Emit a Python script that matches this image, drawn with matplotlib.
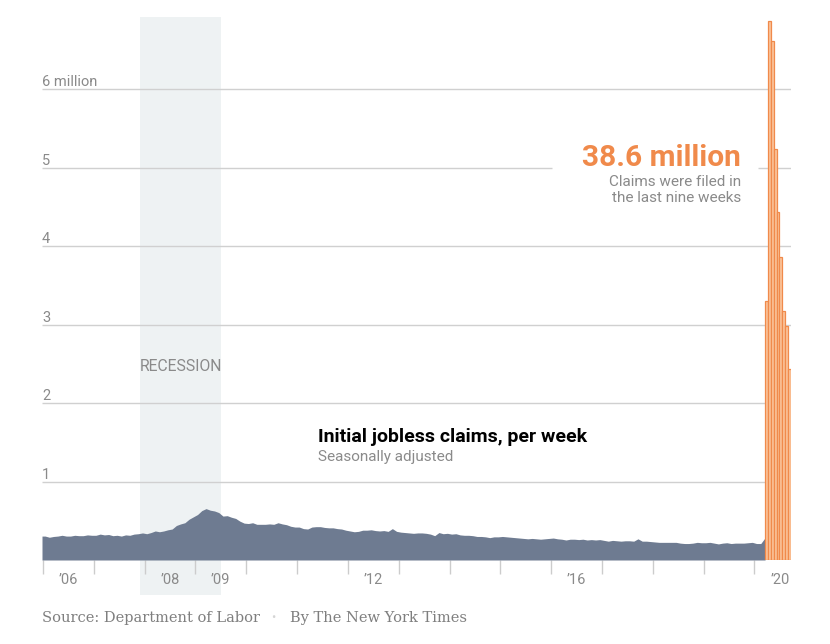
import numpy as np
import matplotlib.pyplot as plt
from matplotlib.patches import Rectangle
import matplotlib.transforms as mtransforms

# weekly initial claims, shown as monthly levels (thousands), Jan 2006 .. Mar 2020
claims_2006 = [305, 290, 300, 305, 315, 305, 305, 315, 310, 310, 320, 315]
claims_2007 = [315, 330, 320, 325, 310, 315, 305, 320, 315, 330, 335, 345]
claims_2008 = [335, 350, 370, 360, 370, 385, 395, 440, 460, 475, 520, 550]
claims_2009 = [580, 630, 655, 635, 625, 605, 560, 565, 545, 530, 495, 470]
claims_2010 = [465, 475, 455, 455, 455, 460, 455, 475, 460, 450, 430, 420]
claims_2011 = [420, 400, 395, 420, 425, 425, 415, 410, 410, 400, 395, 380]
claims_2012 = [370, 360, 365, 380, 380, 385, 375, 370, 375, 365, 400, 365]
claims_2013 = [355, 350, 345, 340, 345, 345, 340, 330, 310, 350, 335, 340]
claims_2014 = [330, 335, 320, 315, 315, 310, 300, 300, 295, 285, 295, 295]
claims_2015 = [300, 295, 290, 285, 280, 275, 270, 275, 270, 265, 270, 275]
claims_2016 = [280, 270, 265, 255, 265, 265, 260, 265, 255, 260, 255, 260]
claims_2017 = [250, 240, 250, 245, 240, 245, 245, 240, 270, 240, 240, 235]
claims_2018 = [230, 225, 225, 225, 225, 225, 215, 210, 210, 215, 225, 220]
claims_2019 = [220, 225, 215, 205, 215, 220, 210, 215, 215, 215, 220, 225]
claims_2020 = [210, 210, 282]

# last nine weeks (millions)
covid_weeks = ['Mar 21', 'Mar 28', 'Apr 4', 'Apr 11', 'Apr 18', 'Apr 25', 'May 2', 'May 9', 'May 16']
covid_claims = [3.307, 6.867, 6.615, 5.237, 4.442, 3.867, 3.176, 2.981, 2.438]

y_ticks = [1, 2, 3, 4, 5, 6]
y_labels = ['1', '2', '3', '4', '5', '6 million']
year_ticks = list(range(2006, 2021))
label_years = [2006, 2008, 2009, 2012, 2016, 2020]
recession = (2007 + 11 / 12, 2009.5)

GRAY = '#6e7b91'
ORANGE = '#f08a4b'
ORANGE_LIGHT = '#fbc49a'
TXT = '#8a8a8a'

plt.rcParams['font.family'] = ['Roboto', 'DejaVu Sans']

fig = plt.figure(figsize=(8.3, 6.44), dpi=100)
ax = fig.add_axes([42 / 830, 84 / 644, 749 / 830, 549 / 644])
ax.set_xlim(2005.98, 2020.72)
ax.set_ylim(0, 7.0)
for s in ax.spines.values():
    s.set_visible(False)

# recession band, running below the axis over the tick labels
trans = mtransforms.blended_transform_factory(ax.transData, ax.transAxes)
ax.add_patch(Rectangle((recession[0], -0.064), recession[1] - recession[0], 1.053,
                       transform=trans, color='#eef2f3', clip_on=False, zorder=0, lw=0))
ax.text(sum(recession) / 2, 2.47, 'RECESSION', ha='center', va='center',
        color=TXT, fontsize=11.3, zorder=3)

# gridlines (the 5 line is broken behind the annotation)
for y in y_ticks:
    if y == 5:
        ax.hlines(y, 2005.98, 2016.02, color='#d0d0d0', lw=1, zorder=1)
        ax.hlines(y, 2020.08, 2020.72, color='#d0d0d0', lw=1, zorder=1)
    else:
        ax.hlines(y, 2005.98, 2020.72, color='#d0d0d0', lw=1, zorder=1)
for y, lab in zip(y_ticks, y_labels):
    ax.text(2005.98, y + 0.0, lab, ha='left', va='bottom', color=TXT, fontsize=10.5)

# gray area
monthly = np.array(claims_2006 + claims_2007 + claims_2008 + claims_2009 + claims_2010 +
                   claims_2011 + claims_2012 + claims_2013 + claims_2014 + claims_2015 +
                   claims_2016 + claims_2017 + claims_2018 + claims_2019 + claims_2020) / 1000
xs = 2006 + (np.arange(len(monthly)) + 0.5) / 12
xs = np.concatenate([[2005.98], xs, [2020.21]])
ys = np.concatenate([[monthly[0]], monthly, [monthly[-1]]])
ax.fill_between(xs, ys, color=GRAY, lw=0, zorder=2)

# orange bars for the last nine weeks
w = (2020.72 - 2020.21) / len(covid_claims)
bx = 2020.21 + (np.arange(len(covid_claims)) + 0.5) * w
ax.bar(bx, covid_claims, width=w, color=ORANGE_LIGHT, edgecolor=ORANGE, lw=0.9, zorder=2)

# x ticks
ax.set_yticks([])
ax.set_xticks(year_ticks)
ax.set_xticklabels([])
ax.tick_params(axis='x', which='major', length=10, color='#cccccc', width=1)
ax.set_xticks([y + 0.5 for y in label_years], minor=True)
ax.set_xticklabels(["\u2019%02d" % (y % 100) for y in label_years], minor=True)
ax.tick_params(axis='x', which='minor', length=0, pad=9, labelsize=10.5, labelcolor=TXT)

# annotations
ax.text(2019.74, 5.13, '38.6 million', ha='right', va='center', color=ORANGE,
        fontsize=21.5, fontweight='bold')
ax.text(2019.74, 4.72, 'Claims were filed in\nthe last nine weeks', ha='right', va='center',
        color=TXT, fontsize=11, linespacing=1.2)
ax.text(2011.41, 1.57, 'Initial jobless claims, per week', ha='left', va='center',
        color='black', fontsize=14, fontweight='bold')
ax.text(2011.41, 1.31, 'Seasonally adjusted', ha='left', va='center', color=TXT, fontsize=11)

# footer
fig.text(42 / 830, 1 - 618 / 644, 'Source: Department of Labor', ha='left', va='center',
         color='#7f7f7f', fontsize=10.5, family='DejaVu Serif')
fig.text(273 / 830, 1 - 617 / 644, '\u2022', ha='center', va='center', color='#d5d5d5', fontsize=9)
fig.text(290 / 830, 1 - 618 / 644, 'By The New York Times', ha='left', va='center',
         color='#7f7f7f', fontsize=10.5, family='DejaVu Serif')

fig.savefig('out.png', dpi=100)
